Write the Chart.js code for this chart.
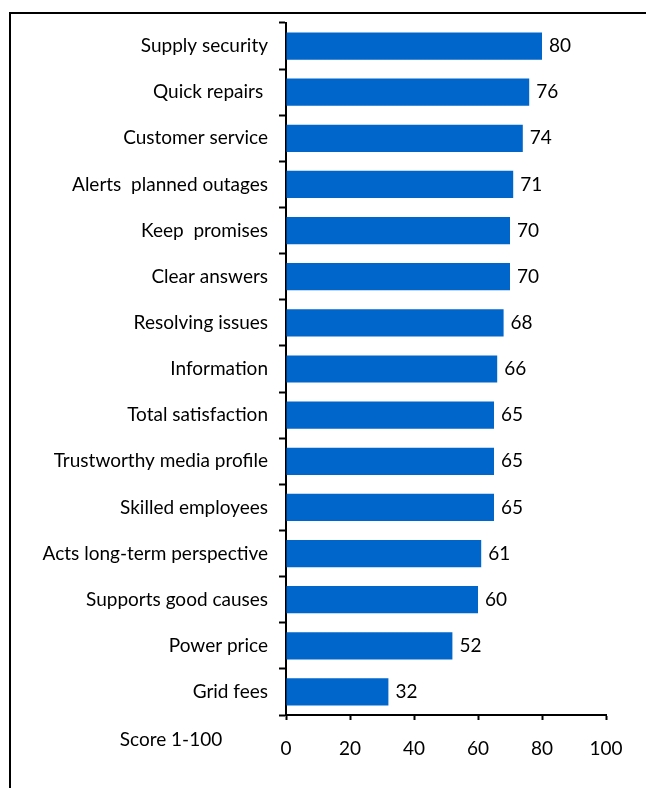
<!DOCTYPE html>
<html>
<head>
<meta charset="utf-8">
<script src="https://cdn.jsdelivr.net/npm/chart.js@4"></script>
<style>
  html, body { margin: 0; padding: 0; background: #fff; }
  #wrap { width: 646px; height: 788px; position: relative; }
</style>
</head>
<body>
<div id="wrap"><canvas id="barCanvas" width="646" height="788"></canvas></div>
<script>
// categories + scores
const categories = [
  "Supply security",
  "Quick repairs ",
  "Customer service",
  "Alerts  planned outages",
  "Keep  promises",
  "Clear answers",
  "Resolving issues",
  "Information",
  "Total satisfaction",
  "Trustworthy media profile",
  "Skilled employees",
  "Acts long-term perspective",
  "Supports good causes",
  "Power price",
  "Grid fees",
];
const scores = [80, 76, 74, 71, 70, 70, 68, 66, 65, 65, 65, 61, 60, 52, 32];
const xTicks = [0, 20, 40, 60, 80, 100];
const axisNote = "Score 1-100";

const FONT = "Lato, 'Open Sans', sans-serif";
const FONT_SIZE = 19;
const barCanvas = document.getElementById("barCanvas");

// frame round the whole chart + the score note
const framePlugin = {
  id: "frame",
  beforeDraw: (chart) => {
    const ctx = chart.ctx;
    ctx.save();
    ctx.strokeStyle = "#000";
    ctx.lineWidth = 2;
    ctx.strokeRect(10, 13, 700, 800);
    ctx.restore();
  },
  afterDraw: (chart) => {
    const ctx = chart.ctx;
    const { left, bottom } = chart.chartArea;
    ctx.save();
    ctx.font = FONT_SIZE + "px " + FONT;
    ctx.fillStyle = "#000";
    ctx.textAlign = "center";
    ctx.textBaseline = "middle";
    ctx.fillText(axisNote, left - 115, bottom + 25);
    ctx.restore();
  },
};

// value labels at the end of each bar
const valueLabels = {
  id: "valueLabels",
  afterDatasetsDraw: (chart) => {
    const ctx = chart.ctx;
    const meta = chart.getDatasetMeta(0);
    ctx.save();
    ctx.font = FONT_SIZE + "px " + FONT;
    ctx.fillStyle = "#000";
    ctx.textAlign = "left";
    ctx.textBaseline = "middle";
    meta.data.forEach((bar, i) => {
      ctx.fillText(String(scores[i]), bar.x + 7, bar.y);
    });
    ctx.restore();
  },
};

const barChart = new Chart(barCanvas, {
  type: "bar",
  data: {
    labels: categories,
    datasets: [
      {
        data: scores,
        backgroundColor: "#0066CC",
        borderWidth: 0,
        categoryPercentage: 1,
        barPercentage: 0.59,
      },
    ],
  },
  options: {
    indexAxis: "y",
    responsive: false,
    animation: false,
    layout: { padding: { left: 0, right: 40, top: 23, bottom: 28 } },
    plugins: {
      legend: { display: false },
      tooltip: { enabled: false },
    },
    scales: {
      x: {
        min: 0,
        max: 100,
        afterBuildTicks: (scale) => {
          scale.ticks = xTicks.map((v) => ({ value: v }));
        },
        afterFit: (scale) => {
          scale.height = 45;
        },
        grid: {
          drawOnChartArea: false,
          drawTicks: true,
          tickLength: 5,
          tickWidth: 2,
          tickColor: "#000",
        },
        border: { display: true, color: "#000", width: 2 },
        ticks: {
          padding: 17,
          maxRotation: 0,
          color: "#000",
          font: { family: FONT, size: FONT_SIZE },
        },
      },
      y: {
        afterFit: (scale) => {
          scale.width = 286;
        },
        grid: {
          offset: true,
          drawOnChartArea: false,
          drawTicks: true,
          tickLength: 7,
          tickWidth: 2,
          tickColor: "#000",
        },
        border: { display: true, color: "#000", width: 2 },
        ticks: {
          padding: 11,
          autoSkip: false,
          color: "#000",
          font: { family: FONT, size: FONT_SIZE },
        },
      },
    },
  },
  plugins: [framePlugin, valueLabels],
});
</script>
</body>
</html>
